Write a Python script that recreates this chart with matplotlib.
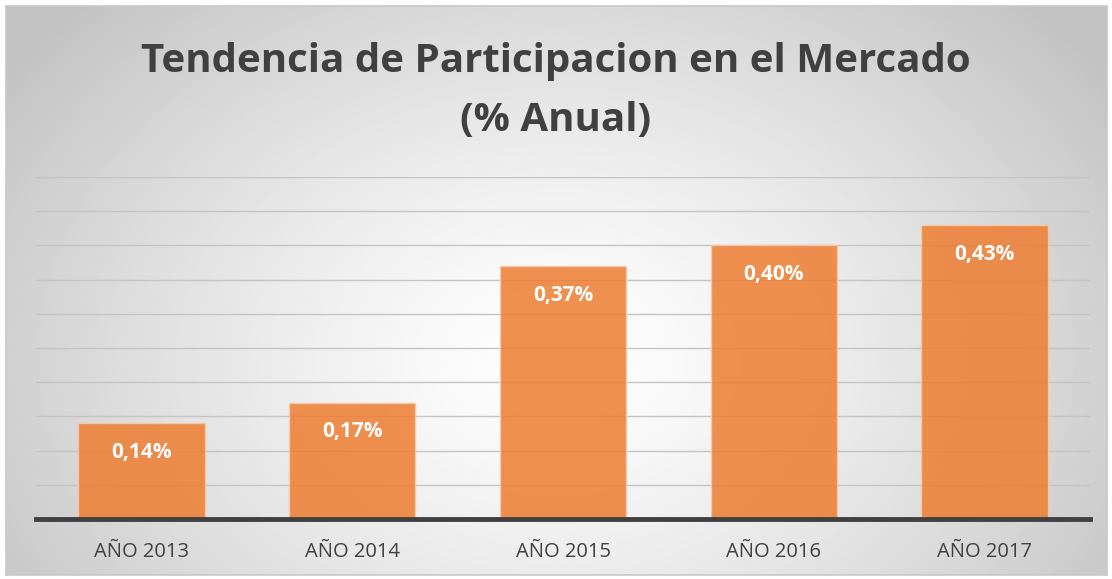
import numpy as np
import matplotlib.pyplot as plt

# market share per year (%)
years = ["AÑO 2013", "AÑO 2014", "AÑO 2015", "AÑO 2016", "AÑO 2017"]
share = [0.14, 0.17, 0.37, 0.40, 0.43]
title = "Tendencia de Participacion en el Mercado\n(% Anual)"

plt.rcParams['font.family'] = ['Open Sans', 'DejaVu Sans']

W, H = 1112, 579
fig = plt.figure(figsize=(W / 100, H / 100), dpi=100)
fig.patch.set_facecolor('white')

# radial gradient background of the chart box
x0, y0, x1, y1 = 6, 6, 1107, 575
bg = fig.add_axes([x0 / W, 1 - y1 / H, (x1 - x0) / W, (y1 - y0) / H])
gx, gy = np.meshgrid(np.linspace(0, 1, 400), np.linspace(0, 1, 220))
r = np.sqrt(((gx - 0.5) / 0.62) ** 2 + ((gy - 0.62) / 0.9) ** 2)
shade = 1.0 - 0.24 * np.clip(r, 0, 1) ** 1.3
bg.imshow(shade, cmap='gray', vmin=0, vmax=1, aspect='auto', extent=[0, 1, 0, 1], origin='upper')
bg.set_xticks([])
bg.set_yticks([])
for s in bg.spines.values():
    s.set_color('#c8c8c8')
    s.set_linewidth(1.2)

# plot area
left, right, top, bottom = 36, 1090, 177, 519
ax = fig.add_axes([left / W, 1 - bottom / H, (right - left) / W, (bottom - top) / H])
ax.patch.set_alpha(0)
x = np.arange(len(years))
bars = ax.bar(x, share, width=0.6, color='#ED7D31', alpha=0.85,
              edgecolor='#F8CBAD', linewidth=1.0, zorder=3)
ax.set_xlim(-0.5, len(years) - 0.5)
ax.set_ylim(0, 0.5)
ax.set_yticks(np.arange(0, 0.51, 0.05))
ax.yaxis.grid(True, color='#c4c4c4', linewidth=1.0, zorder=0)
ax.tick_params(axis='y', left=False, labelleft=False)
ax.tick_params(axis='x', bottom=False, pad=13, labelsize=14.5, labelcolor='#404040')
ax.set_xticks(x)
ax.set_xticklabels(years)
for s in ['top', 'right', 'left']:
    ax.spines[s].set_visible(False)
ax.spines['bottom'].set_color('#404040')
ax.spines['bottom'].set_linewidth(3.5)
ax.spines['bottom'].set_zorder(4)

for xi, v in zip(x, share):
    ax.annotate(f"{v:.2f}%".replace('.', ','), (xi, v), xytext=(0, -21),
                textcoords='offset points', ha='center', va='center',
                color='white', fontsize=15, fontweight='bold', zorder=5)

fig.text(0.5, 1 - 91 / H, title, ha='center', va='center', fontsize=29,
         fontweight='bold', color='#404040', linespacing=1.68)

fig.savefig('out.png', dpi=100)
